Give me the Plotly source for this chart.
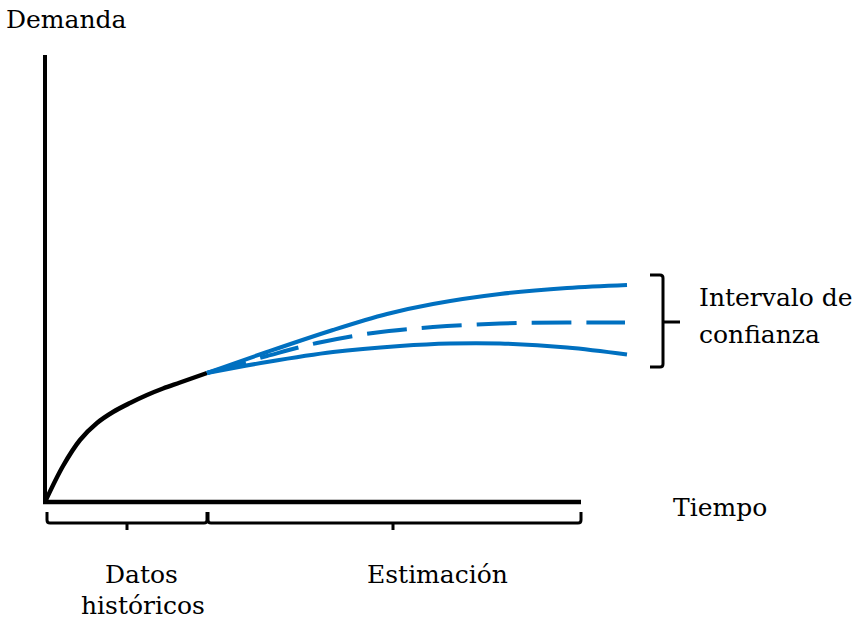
import plotly.graph_objects as go

# ---- data (time units, demand units) ----
hist_t = [0.0, 1.8, 3.5, 5.2, 6.8, 8.5, 10.2, 11.8, 13.5, 16.2]
hist_d = [0.0, 3.6, 6.2, 7.9, 9.0, 9.9, 10.7, 11.35, 11.95, 12.9]

fc_t = [16.2, 22.2, 28.8, 34.2, 38.8, 45.5, 52.2, 58.2]
upper_d = [12.9, 15.0, 17.2, 18.8, 19.8, 20.8, 21.4, 21.7]

mid_t = [16.2, 22.2, 27.2, 32.8, 38.8, 45.5, 52.2, 58.0]
mid_d = [12.9, 14.6, 15.9, 16.9, 17.5, 17.85, 17.95, 17.95]

low_t = [16.2, 22.2, 28.8, 35.5, 40.5, 45.5, 52.2, 58.2]
low_d = [12.9, 14.0, 15.0, 15.6, 15.85, 15.85, 15.45, 14.75]

# axis / annotation extents
x_axis_end = 53.6
y_axis_top = 44.7
hist_end = 16.2

BLUE = "#0070C0"
FONT = "DejaVu Serif"

fig = go.Figure()
fig.add_trace(go.Scatter(x=hist_t, y=hist_d, mode="lines", line=dict(color="black", width=4.5, shape="spline"), hoverinfo="skip"))
fig.add_trace(go.Scatter(x=fc_t, y=upper_d, mode="lines", line=dict(color=BLUE, width=4, shape="spline"), hoverinfo="skip"))
fig.add_trace(go.Scatter(x=low_t, y=low_d, mode="lines", line=dict(color=BLUE, width=4, shape="spline"), hoverinfo="skip"))
fig.add_trace(go.Scatter(x=mid_t, y=mid_d, mode="lines", line=dict(color=BLUE, width=4, shape="spline", dash="40px,15px"), hoverinfo="skip"))

shapes = []
# axes
shapes.append(dict(type="line", xref="x", yref="y", x0=0, x1=0, y0=0, y1=y_axis_top, line=dict(color="black", width=4)))
shapes.append(dict(type="line", xref="x", yref="y", x0=-0.2, x1=x_axis_end, y0=0, y1=0, line=dict(color="black", width=4.5)))


def bottom_brace(xa, xb, xc):
    ytop, yh, ytip, r = -1.0, -2.1, -2.8, 0.3
    p = (f"M {xa},{ytop} L {xa},{yh + r} Q {xa},{yh} {xa + r},{yh} "
         f"L {xb - r},{yh} Q {xb},{yh} {xb},{yh + r} L {xb},{ytop} "
         f"M {xc},{yh} L {xc},{ytip}")
    return dict(type="path", xref="x", yref="y", path=p, line=dict(color="black", width=3))


shapes.append(bottom_brace(0.2, hist_end, 8.2))
shapes.append(bottom_brace(hist_end + 0.1, x_axis_end, 34.8))

# right bracket
bx, bl, btop, bbot, bmid, btip, r = 61.8, 60.5, 22.7, 13.5, 18.0, 63.5, 0.3
p = (f"M {bl},{btop} L {bx - r},{btop} Q {bx},{btop} {bx},{btop - r} "
     f"L {bx},{bbot + r} Q {bx},{bbot} {bx - r},{bbot} L {bl},{bbot} "
     f"M {bx},{bmid} L {btip},{bmid}")
shapes.append(dict(type="path", xref="x", yref="y", path=p, line=dict(color="black", width=3)))

ann = []
def txt(s, x, y, xa="left", ya="middle"):
    ann.append(dict(text=s, x=x, y=y, xref="x", yref="y", xanchor=xa, yanchor=ya,
                    showarrow=False, font=dict(family=FONT, size=25, color="black")))

txt("Demanda", -4.1, 48.25)
txt("Tiempo", 62.6, -0.55)
txt("Datos", 9.6, -7.25, "center")
txt("históricos", 9.8, -11.95, "center", "bottom")
txt("Estimación", 39.2, -7.25, "center")
txt("Intervalo de", 65.2, 20.45)
txt("confianza", 65.2, 16.75)

fig.update_layout(
    width=857, height=622, margin=dict(l=0, r=0, t=0, b=0),
    paper_bgcolor="white", plot_bgcolor="white", showlegend=False,
    xaxis=dict(range=[-4.5, 81.2], visible=False, fixedrange=True),
    yaxis=dict(range=[-12.0, 50.2], visible=False, fixedrange=True),
    shapes=shapes, annotations=ann,
)
fig.write_html("out.html", config={"displayModeBar": False},
               post_script="document.body.style.margin='0';document.body.style.overflow='hidden';")
